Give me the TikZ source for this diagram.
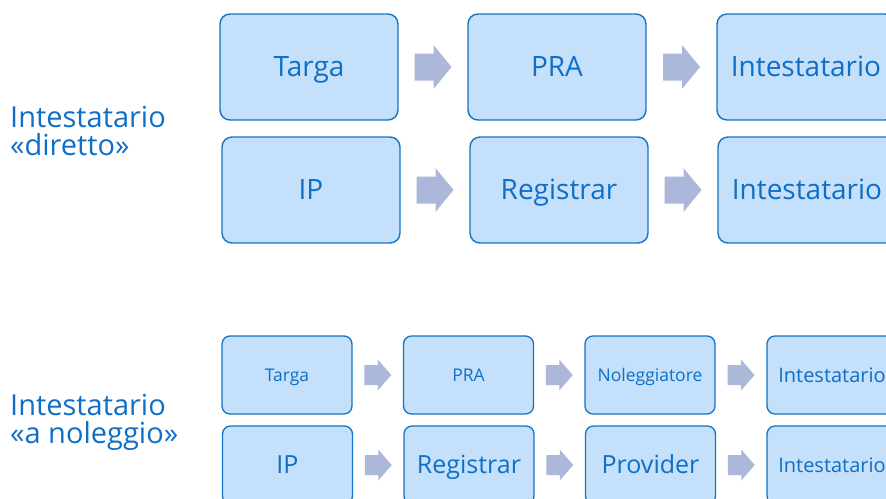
\documentclass[tikz,border=0pt]{standalone}
\usepackage{fontspec}
\setmainfont{Open Sans}
\usetikzlibrary{calc}
\definecolor{txtblue}{HTML}{0F6FC6}
\definecolor{boxfill}{HTML}{C4E0FA}
\definecolor{boxline}{HTML}{1474C4}
\definecolor{arrowfill}{HTML}{ABB8DA}
\tikzset{
  % font size #1 (pt); text box height = cap height, so labels share a baseline
  fs/.style={font=\fontsize{#1}{#1}\selectfont, text height=0.714*#1 pt, text depth=0pt},
  bigbox/.style={rectangle, rounded corners=10pt, draw=boxline, fill=boxfill,
    line width=1.4pt, minimum width=178pt, minimum height=106pt, inner sep=0pt,
    text=txtblue, fs=28},
  smallbox/.style={rectangle, rounded corners=8pt, draw=boxline, fill=boxfill,
    line width=1.3pt, minimum width=130pt, minimum height=78pt, inner sep=0pt,
    text=txtblue},
  lbl/.style={text=txtblue, align=left, anchor=base west, inner sep=0pt,
    font=\fontsize{29}{28}\selectfont},
  pics/bigarrow/.style={code={
    \fill[arrowfill] (-18.5,-13.5) -- (0.5,-13.5) -- (0.5,-22) -- (18.5,0)
      -- (0.5,22) -- (0.5,13.5) -- (-18.5,13.5) -- cycle;}},
  pics/smallarrow/.style={code={
    \fill[arrowfill] (-13.5,-10) -- (0,-10) -- (0,-15.5) -- (13.5,0)
      -- (0,15.5) -- (0,10) -- (-13.5,10) -- cycle;}},
}
\begin{document}
\begin{tikzpicture}[x=1pt, y=-1pt]
\useasboundingbox (0,0) rectangle (886,498);
\clip (0,0) rectangle (886,498);

% group labels (anchored on the baseline of the second line)
\node[lbl] (lblA) at (10,155) {Intestatario\\«diretto»};
\node[lbl] (lblB) at (10,443) {Intestatario\\«a noleggio»};

% direct owner: two chains
\node[bigbox] (t1) at (309,67) {Targa};
\node[bigbox] (t2) at (557,67) {PRA};
\node[bigbox] (t3) at (806,67) {Intestatario};
\node[bigbox] (i1) at (311,190) {IP};
\node[bigbox] (i2) at (559,190) {Registrar};
\node[bigbox] (i3) at (807,190) {Intestatario};

% rental owner: two chains
\node[smallbox, fs=17.5] (rt1) at (287,375) {Targa};
\node[smallbox, fs=17.5] (rt2) at (468.5,375) {PRA};
\node[smallbox, fs=17.5] (rt3) at (650,375) {Noleggiatore};
\node[smallbox, fs=20] (rt4) at (832,375) {Intestatario};
\node[smallbox, fs=25] (ri1) at (287.5,465) {IP};
\node[smallbox, fs=25] (ri2) at (469,465) {Registrar};
\node[smallbox, fs=25] (ri3) at (650.5,465) {Provider};
\node[smallbox, fs=20] (ri4) at (832,465) {Intestatario};

% block arrows between consecutive boxes
\foreach \a/\b in {t1/t2, t2/t3, i1/i2, i2/i3}
  \pic at ($(\a.east)!0.5!(\b.west)$) {bigarrow};
\foreach \a/\b in {rt1/rt2, rt2/rt3, rt3/rt4, ri1/ri2, ri2/ri3, ri3/ri4}
  \pic at ($(\a.east)!0.5!(\b.west)$) {smallarrow};
\end{tikzpicture}
\end{document}
